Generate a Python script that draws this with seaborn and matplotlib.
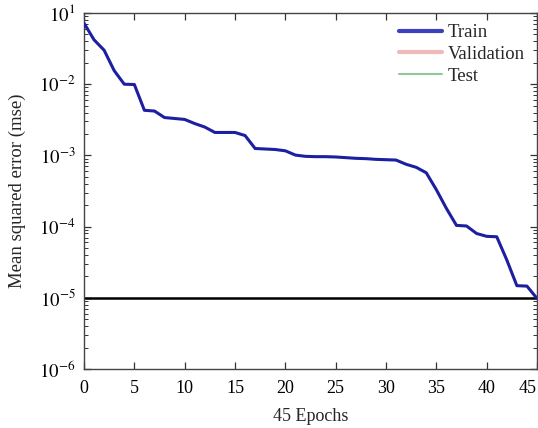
import numpy as np
import pandas as pd
import matplotlib
matplotlib.use("Agg")
import matplotlib.pyplot as plt
from matplotlib.lines import Line2D
import seaborn as sns

# train performance (one value per epoch)
epochs = list(range(46))
train_mse = [0.072, 0.042, 0.030, 0.0155, 0.0100, 0.0099, 0.0043, 0.0042, 0.0034, 0.0033,
             0.0032, 0.0028, 0.0025, 0.0021, 0.0021, 0.0021, 0.0019, 0.00125, 0.00123, 0.00121,
             0.00116, 0.00101, 0.00097, 0.00096, 0.00096, 0.00095, 0.00093, 0.00091, 0.00090, 0.00088,
             0.00087, 0.00086, 0.00075, 0.00068, 0.00057, 0.00033, 0.00018, 0.000104, 0.000102, 0.000080,
             0.000073, 0.000072, 0.000034, 0.0000148, 0.0000146, 0.0000098]
best_mse = 0.0000098
legend_labels = ['Train', 'Validation', 'Test']
ytick_vals = [1e-1, 1e-2, 1e-3, 1e-4, 1e-5, 1e-6]
ytick_labels = ['$10^{1}$', '$10^{-2}$', '$10^{-3}$', '$10^{-4}$', '$10^{-5}$', '$10^{-6}$']
xtick_vals = [0, 5, 10, 15, 20, 25, 30, 35, 40, 45]

sns.set_style("ticks")
plt.rcParams['font.family'] = ['Liberation Serif', 'DejaVu Serif']
plt.rcParams['mathtext.fontset'] = 'stix'

df = pd.DataFrame({'epoch': epochs, 'mse': train_mse})

fig = plt.figure(figsize=(5.38, 4.28), dpi=100)
ax = fig.add_axes([84/538, 1-369/428, (537-84)/538, (369-13)/428])

# best line
ax.axhline(best_mse, color='black', lw=1.8, zorder=2)
sns.lineplot(data=df, x='epoch', y='mse', ax=ax, color='#1c1fa0', lw=2.2, zorder=3)

ax.set_yscale('log')
ax.set_xlim(0, 45)
ax.set_ylim(1e-6, 1e-1)
ax.set_xticks(xtick_vals)
ax.set_yticks(ytick_vals)
ax.set_yticklabels(ytick_labels)
ax.tick_params(axis='both', which='major', direction='in', length=5, width=0.9,
               top=True, right=True, colors='#333333', labelcolor='black')
ax.tick_params(axis='x', labelsize=13, pad=8)
ax.tick_params(axis='y', labelsize=13.5, pad=6)
ax.tick_params(axis='y', which='minor', direction='in', length=3, width=0.7,
               left=True, right=True, colors='#333333')
for s in ax.spines.values():
    s.set_color('#444444')
    s.set_linewidth(1.0)
# last x label sits against the right edge
ax.get_xticklabels()[-1].set_horizontalalignment('right')

ax.set_xlabel('45 Epochs', fontsize=13, labelpad=8)
ax.set_ylabel('Mean squared error (mse)', fontsize=13.5)
ax.yaxis.set_label_coords(-0.128, 0.5)

handles = [Line2D([], [], color='#3b40bb', lw=3),
           Line2D([], [], color='#f0b9b9', lw=3),
           Line2D([], [], color='#8fc99b', lw=1.5)]
ax.legend(handles, legend_labels, loc='upper right', bbox_to_anchor=(0.99, 0.99),
          frameon=False, fontsize=13.5, handlelength=2.3, handletextpad=0.3,
          labelspacing=0.25, borderaxespad=0.0)

fig.savefig('out.png', dpi=100)
